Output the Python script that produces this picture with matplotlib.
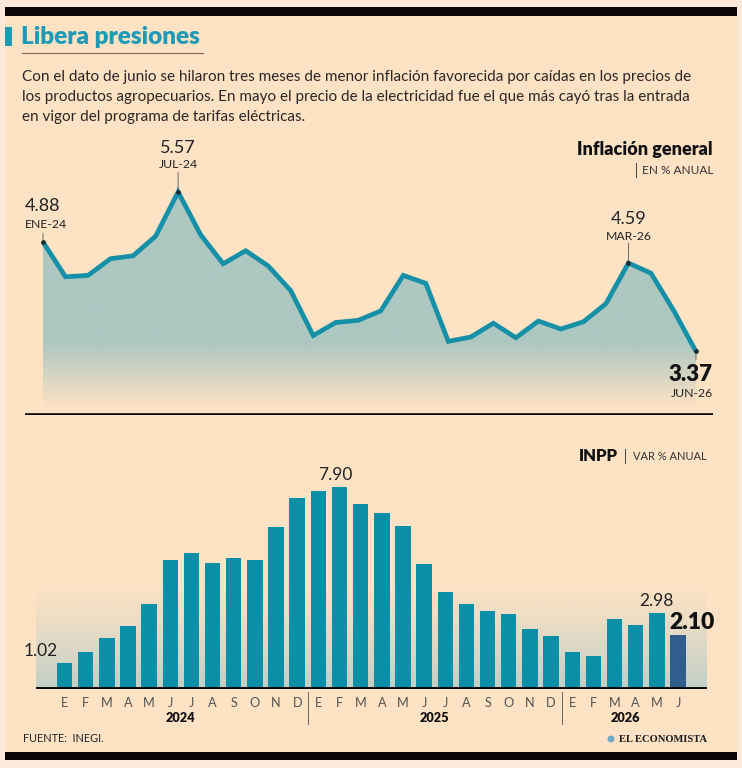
import matplotlib
matplotlib.use("Agg")
import matplotlib.pyplot as plt
import numpy as np
from matplotlib.patches import Rectangle, Ellipse
from matplotlib.colors import to_rgb

# ---------------- data ----------------
infl_values = [4.88, 4.40, 4.42, 4.65, 4.69, 4.96, 5.57, 4.98, 4.58, 4.76, 4.55, 4.21,
               3.59, 3.77, 3.80, 3.93, 4.42, 4.31, 3.51, 3.57, 3.76, 3.56, 3.79, 3.68,
               3.78, 4.03, 4.59, 4.45, 3.94, 3.37]
infl_labels = {0: ("4.88", "ENE-24"), 6: ("5.57", "JUL-24"), 26: ("4.59", "MAR-26"), 29: ("3.37", "JUN-26")}

inpp_values = [1.02, 1.46, 1.98, 2.47, 3.32, 5.03, 5.31, 4.92, 5.13, 5.04, 6.34, 7.46,
               7.75, 7.90, 7.23, 6.89, 6.38, 4.87, 3.77, 3.32, 3.05, 2.93, 2.34, 2.06,
               1.46, 1.28, 2.72, 2.51, 2.98, 2.10]
month_letters = ["E", "F", "M", "A", "M", "J", "J", "A", "S", "O", "N", "D"] * 2 + ["E", "F", "M", "A", "M", "J"]
years = ["2024", "2025", "2026"]
year_counts = [12, 12, 6]

title = "Libera presiones"
body = ["Con el dato de junio se hilaron tres meses de menor inflación favorecida por caídas en los precios de",
        "los productos agropecuarios. En mayo el precio de la electricidad fue el que más cayó tras la entrada",
        "en vigor del programa de tarifas eléctricas."]

# ---------------- styling ----------------
W, H = 742, 768
BG_OUT = "#FCE9DA"
BG = "#FDE2C4"
TEAL = "#1590A7"
BAR = "#0A8FA8"
BAR_LAST = "#2F5E8C"
TITLE_C = "#1C9AB6"
FONT = "Lato"
plt.rcParams['font.family'] = [FONT, 'DejaVu Sans']

fig = plt.figure(figsize=(W / 100, H / 100), dpi=100, facecolor=BG_OUT)


def fx(x):
    return x / W


def fy(y):
    return 1 - y / H


def rect(x0, y0, x1, y1):
    return [fx(x0), fy(y1), (x1 - x0) / W, (y1 - y0) / H]


# background panel and black bars
fig.patches.append(Rectangle((fx(5), fy(760)), 732 / W, 752 / H, transform=fig.transFigure,
                             facecolor=BG, edgecolor="none", zorder=-5))
fig.patches.append(Rectangle((fx(5), fy(16)), 732 / W, 8.5 / H, transform=fig.transFigure,
                             facecolor="#0a0606", edgecolor="none", zorder=1))
fig.patches.append(Rectangle((fx(5), fy(760)), 732 / W, 8.5 / H, transform=fig.transFigure,
                             facecolor="#0a0606", edgecolor="none", zorder=1))

# title
fig.patches.append(Rectangle((fx(5), fy(46)), 6.5 / W, 19 / H, transform=fig.transFigure,
                             facecolor=TITLE_C, edgecolor="none"))
fig.text(fx(21), fy(37), title, color=TITLE_C, fontsize=17.5, fontweight="heavy",
         va="center", ha="left")
fig.add_artist(plt.Line2D([fx(22), fx(203)], [fy(53), fy(53)], transform=fig.transFigure,
                          color="#8C6E60", lw=0.9))
for i, line in enumerate(body):
    fig.text(fx(22), fy(77 + i * 20), line, color="#2c2624", fontsize=11.0,
             fontweight="normal", va="center", ha="left")

# ---------------- line chart ----------------
ax1 = fig.add_axes(rect(25, 130, 713, 415))
ax1.set_facecolor("none")
x = np.arange(len(infl_values))
y = np.array(infl_values)
ylo, yhi = 2.494, 6.425
ax1.set_xlim(-0.8, 29.755)
ax1.set_ylim(ylo, yhi)

poly = ax1.fill_between(x, y, ylo, color="none", lw=0)
ny = 300
vals = np.linspace(ylo, yhi, ny)
alpha = np.clip((vals - 2.6) / (3.5 - 2.6), 0, 1) * 0.95
c = np.array(to_rgb("#A9C6C1"))
img = np.zeros((ny, 2, 4))
img[..., :3] = c
img[..., 3] = alpha[:, None]
im = ax1.imshow(img, extent=[0, 29, ylo, yhi], origin="lower", aspect="auto", zorder=1,
                interpolation="bilinear")
im.set_clip_path(poly.get_paths()[0], transform=ax1.transData)
ax1.plot(x, y, color=TEAL, lw=3.4, solid_joinstyle="miter", solid_capstyle="butt", zorder=3)
ax1.axhline(ylo, color="#0a0606", lw=2.6, zorder=4)

px = 0.72  # points per pixel
for idx, (val, lab) in infl_labels.items():
    xv, yv = x[idx], y[idx]
    ax1.plot([xv], [yv], "o", ms=2.4, color="#1b2a30", zorder=5)
    if idx == 29:
        ax1.annotate("", xy=(xv, yv), xytext=(0, -8 * px), textcoords="offset points",
                     arrowprops=dict(arrowstyle="-", lw=0.6, color="#555", shrinkA=0, shrinkB=0))
        ax1.annotate(val, xy=(xv, yv), xytext=(17 * px, -23 * px), textcoords="offset points",
                     ha="right", va="center", fontsize=16, fontweight="heavy", color="#111")
        ax1.annotate(lab, xy=(xv, yv), xytext=(17 * px, -42 * px), textcoords="offset points",
                     ha="right", va="center", fontsize=8.8, color="#222")
    elif idx == 0:
        ax1.annotate("", xy=(xv, yv), xytext=(0, 9 * px), textcoords="offset points",
                     arrowprops=dict(arrowstyle="-", lw=0.6, color="#555", shrinkA=0, shrinkB=0))
        ax1.annotate(val, xy=(xv, yv), xytext=(-18 * px, 36 * px), textcoords="offset points",
                     ha="left", va="center", fontsize=13, color="#222")
        ax1.annotate(lab, xy=(xv, yv), xytext=(-18 * px, 18 * px), textcoords="offset points",
                     ha="left", va="center", fontsize=8.8, color="#222")
    else:
        ax1.annotate("", xy=(xv, yv), xytext=(0, 20 * px), textcoords="offset points",
                     arrowprops=dict(arrowstyle="-", lw=0.6, color="#555", shrinkA=0, shrinkB=0))
        ax1.annotate(val, xy=(xv, yv), xytext=(0, 44 * px), textcoords="offset points",
                     ha="center", va="center", fontsize=13, color="#222")
        ax1.annotate(lab, xy=(xv, yv), xytext=(0, 27 * px), textcoords="offset points",
                     ha="center", va="center", fontsize=8.8, color="#222")
ax1.axis("off")

fig.text(fx(713), fy(149), "Inflación general", ha="right", va="center", fontsize=13,
         fontweight="heavy", color="#111")
fig.text(fx(713), fy(170), "EN % ANUAL", ha="right", va="center", fontsize=8.6,
         color="#333")
fig.add_artist(plt.Line2D([fx(635.5), fx(635.5)], [fy(163), fy(177)], transform=fig.transFigure,
                          color="#444", lw=0.7))

# ---------------- bar chart ----------------
ax2 = fig.add_axes(rect(36, 440, 707, 689))
ax2.set_facecolor("none")
xb = np.arange(len(inpp_values))
ax2.set_xlim(-1.347, 30.37)
ax2.set_ylim(0, 9.727)

ny = 200
gv = np.linspace(0, 1, ny)
gimg = np.zeros((ny, 2, 4))
gimg[..., :3] = np.array(to_rgb("#B7CCC8"))
gimg[..., 3] = (1 - gv)[:, None] ** 1.1 * 0.85
ax2.imshow(gimg, extent=[-1.347, 30.37, 0, 3.98], origin="lower", aspect="auto", zorder=0,
           interpolation="bilinear")
colors = [BAR] * (len(inpp_values) - 1) + [BAR_LAST]
ax2.bar(xb, inpp_values, width=0.73, color=colors, zorder=2)
ax2.axhline(0, color="#0a0606", lw=2.8, zorder=3)
ax2.axis("off")

ax2.annotate("1.02", xy=(0, inpp_values[0]), xytext=(-7 * px, 12 * px), textcoords="offset points",
             ha="right", va="center", fontsize=12.5, color="#222")
ax2.annotate("7.90", xy=(13, inpp_values[13]), xytext=(-4 * px, 12 * px), textcoords="offset points",
             ha="center", va="center", fontsize=12.5, color="#222")
ax2.annotate("2.98", xy=(28, inpp_values[28]), xytext=(0, 12 * px), textcoords="offset points",
             ha="center", va="center", fontsize=12.5, color="#222")
ax2.annotate("2.10", xy=(29, inpp_values[29]), xytext=(-9 * px, 13 * px), textcoords="offset points",
             ha="left", va="center", fontsize=16.5, fontweight="heavy", color="#111")

for i, m in enumerate(month_letters):
    ax2.annotate(m, xy=(i, 0), xytext=(0, -14 * px), textcoords="offset points",
                 ha="center", va="center", fontsize=9.2, color="#555")
start = 0
for yr, n in zip(years, year_counts):
    mid = start + (n - 1) / 2
    ax2.annotate(yr, xy=(mid, 0), xytext=(0, -29 * px), textcoords="offset points",
                 ha="center", va="center", fontsize=9.2, fontweight="heavy", color="#111")
    if start > 0:
        ax2.plot([start - 0.5, start - 0.5], [-0.12, -1.37], color="#666", lw=0.7, clip_on=False)
    start += n

fig.text(fx(618), fy(456), "INPP", ha="right", va="center", fontsize=12,
         fontweight="heavy", color="#111")
fig.add_artist(plt.Line2D([fx(625), fx(625)], [fy(449), fy(463)], transform=fig.transFigure,
                          color="#444", lw=0.7))
fig.text(fx(633), fy(456), "VAR % ANUAL", ha="left", va="center", fontsize=8.0,
         color="#333")

# footer
fig.text(fx(23), fy(739), "FUENTE:  INEGI.", ha="left", va="center", fontsize=7.8,
         color="#222")
fig.text(fx(707), fy(739), "EL ECONOMISTA", ha="right", va="center", fontsize=7.6,
         fontweight="bold", family="Liberation Serif", color="#1a1a1a")
fig.patches.append(Ellipse((fx(611), fy(739)), 7 / W, 7 / H, transform=fig.transFigure,
                           facecolor="#6FA9C8", edgecolor="none", zorder=2))

fig.savefig("out.png", dpi=100, facecolor=BG_OUT)
